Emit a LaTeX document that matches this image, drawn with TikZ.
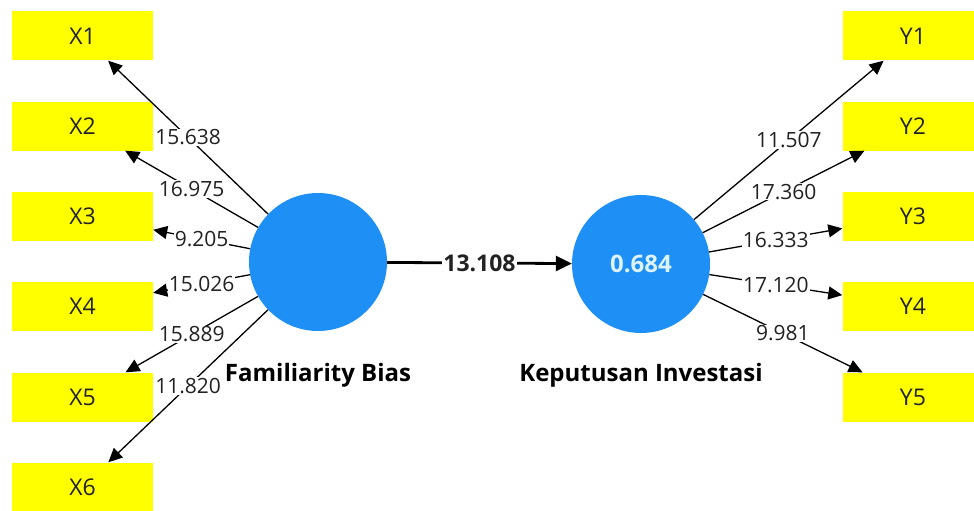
\documentclass[tikz,border=0pt]{standalone}
\usepackage{fontspec}
\setmainfont{Open Sans}
\usepackage{tikz}
\usetikzlibrary{arrows.meta}

\definecolor{lvblue}{HTML}{1E8FF5}
\definecolor{indyellow}{HTML}{FFFF00}
\definecolor{rsqtext}{HTML}{DDF3FF}
\definecolor{labtext}{HTML}{222222}

\begin{document}
\begin{tikzpicture}[x=1pt,y=-1pt,
  latent/.style={circle,fill=lvblue,minimum size=138pt,inner sep=0pt},
  indicator/.style={rectangle,fill=indyellow,minimum width=141pt,minimum height=49pt,inner sep=0pt,
    text=labtext,font=\fontsize{23}{26}\selectfont},
  loading/.style={fill=white,inner sep=1pt,text=labtext,font=\fontsize{21}{24}\selectfont},
  lvname/.style={text=black,font=\fontsize{24}{28}\selectfont\bfseries},
  outer/.style={-{Triangle[length=14pt,width=13pt]},line width=1.3pt},
  inner/.style={-{Triangle[length=16pt,width=15pt]},line width=2.8pt}]
\useasboundingbox (0,0) rectangle (974,511);

% latent variables
\node[latent] (fb) at (318,262) {};
\node[latent] (ki) at (641,264) {\fontsize{24}{28}\selectfont\bfseries\color{rsqtext}0.684};
\node[lvname] at (318,375) {Familiarity Bias};
\node[lvname] at (641,375) {Keputusan Investasi};

% indicators
\node[indicator] (x1) at (82.5,36) {X1};
\node[indicator] (x2) at (82.5,126) {X2};
\node[indicator] (x3) at (82.5,216) {X3};
\node[indicator] (x4) at (82.5,306) {X4};
\node[indicator] (x5) at (82.5,397) {X5};
\node[indicator] (x6) at (82.5,487) {X6};

\node[indicator] (y1) at (913,36) {Y1};
\node[indicator] (y2) at (913,126) {Y2};
\node[indicator] (y3) at (913,216) {Y3};
\node[indicator] (y4) at (913,306) {Y4};
\node[indicator] (y5) at (913,397) {Y5};

% outer loadings
\draw[outer] (fb) -- node[loading] {15.638} (x1);
\draw[outer] (fb) -- node[loading] {16.975} (x2);
\draw[outer] (fb) -- node[loading] {9.205} (x3);
\draw[outer] (fb) -- node[loading] {15.026} (x4);
\draw[outer] (fb) -- node[loading] {15.889} (x5);
\draw[outer] (fb) -- node[loading] {11.820} (x6);

\draw[outer] (ki) -- node[loading] {11.507} (y1);
\draw[outer] (ki) -- node[loading] {17.360} (y2);
\draw[outer] (ki) -- node[loading] {16.333} (y3);
\draw[outer] (ki) -- node[loading] {17.120} (y4);
\draw[outer] (ki) -- node[loading] {9.981} (y5);

% path coefficient
\draw[inner] (fb) -- node[loading,font=\fontsize{23}{26}\selectfont\bfseries] {13.108} (ki);

\end{tikzpicture}
\end{document}
